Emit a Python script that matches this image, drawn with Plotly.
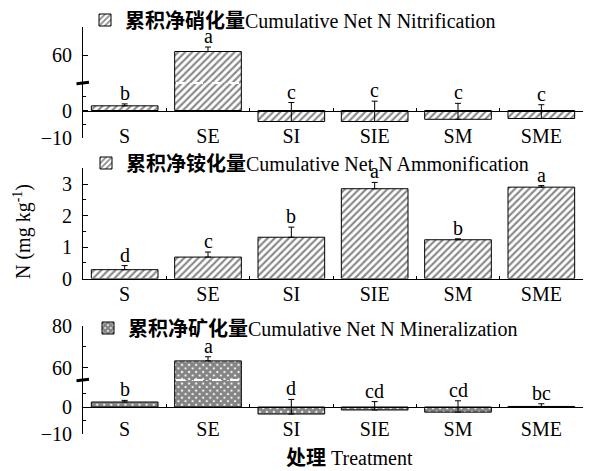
import plotly.graph_objects as go

# Treatments and measured cumulative net N (mg kg-1)
treatments = ["S", "SE", "SI", "SIE", "SM", "SME"]

nitrification = [1.7, 62.5, -4.0, -4.0, -3.2, -2.9]
nitrification_err = [0.7, 3.2, 6.9, 7.4, 5.8, 5.0]
nitrification_sig = ["b", "a", "c", "c", "c", "c"]

ammonification = [0.28, 0.68, 1.31, 2.85, 1.23, 2.9]
ammonification_err = [0.13, 0.16, 0.32, 0.2, 0.03, 0.05]
ammonification_sig = ["d", "c", "b", "a", "b", "a"]

mineralization = [1.85, 63.2, -2.6, -1.1, -1.9, 0.2]
mineralization_err = [0.6, 2.0, 5.4, 3.1, 4.2, 1.0]
mineralization_sig = ["b", "a", "d", "cd", "cd", "bc"]

W, H = 591, 471
FONT = "Liberation Serif, 'Noto Sans CJK SC', serif"


def fy(px):
    return 1 - px / H


xdom = [83 / W, 583 / W]
top_lower, top_upper = [fy(138), fy(83)], [fy(83), fy(27)]
mid_dom = [fy(278.5), fy(168.25)]
bot_lower, bot_upper = [fy(434), fy(380)], [fy(380), fy(326)]

lower_range = [-10, 10]
top_upper_range = [40, 80]
bot_upper_range = [54, 80]
mid_range = [0, 3.5]

hatch = dict(shape="/", fgcolor="#111111", bgcolor="white", size=5, solidity=0.42)
cross = dict(shape="x", fgcolor="#0a0a0a", bgcolor="white", size=5, solidity=0.85)


def bar(vals, errs, pattern, name, xa, ya, legend, show):
    return go.Bar(
        x=treatments, y=vals, name=name, xaxis=xa, yaxis=ya,
        legend=legend, showlegend=show, width=0.8,
        marker=dict(color="white", line=dict(color="black", width=1), pattern=pattern),
        error_y=dict(type="data", array=errs, arrayminus=[0] * len(errs),
                     symmetric=False, color="black", thickness=1, width=3),
    )


name_n = "<b>累积净硝化量</b>Cumulative Net N Nitrification"
name_a = "<b>累积净铵化量</b>Cumulative Net N Ammonification"
name_m = "<b>累积净矿化量</b>Cumulative Net N Mineralization"

fig = go.Figure([
    bar(nitrification, nitrification_err, hatch, name_n, "x", "y", "legend", True),
    bar(nitrification, nitrification_err, hatch, name_n, "x", "y2", "legend", False),
    bar(ammonification, ammonification_err, hatch, name_a, "x2", "y3", "legend2", True),
    bar(mineralization, mineralization_err, cross, name_m, "x3", "y4", "legend3", True),
    bar(mineralization, mineralization_err, cross, name_m, "x3", "y5", "legend3", False),
])

tickfont = dict(family=FONT, size=20, color="black")


def zero_pos(dom, rng):
    return dom[0] + (0 - rng[0]) / (rng[1] - rng[0]) * (dom[1] - dom[0])


xcommon = dict(
    type="category", categoryorder="array", categoryarray=treatments,
    domain=xdom, range=[-0.5, 5.5], showline=True, linecolor="black", linewidth=1,
    ticks="inside", ticklen=3, tickcolor="black", tickson="boundaries",
    tickfont=tickfont, showgrid=False, zeroline=False, fixedrange=True,
)

ycommon = dict(
    showline=True, linecolor="black", linewidth=1, ticks="inside", ticklen=5,
    tickcolor="black", tickfont=tickfont, showgrid=False, zeroline=False,
    tickmode="array", ticklabelstandoff=6, fixedrange=True,
)
minor_style = dict(ticks="inside", ticklen=3, tickcolor="black", tickmode="array")

fig.update_layout(
    width=W, height=H, margin=dict(l=0, r=0, t=0, b=0, autoexpand=False),
    paper_bgcolor="white", plot_bgcolor="white", bargap=0.2,
    font=dict(family=FONT, size=20, color="black"),
    xaxis=dict(xcommon, anchor="free", position=zero_pos(top_lower, lower_range),
               ticklabelstandoff=7),
    xaxis2=dict(xcommon, anchor="y3", ticklabelstandoff=-3),
    xaxis3=dict(xcommon, anchor="free", position=zero_pos(bot_lower, lower_range),
                ticklabelstandoff=4),
    yaxis=dict(ycommon, domain=top_lower, range=lower_range, anchor="x",
               tickvals=[-10, 0], minor=dict(minor_style, tickvals=[-5, 5])),
    yaxis2=dict(ycommon, domain=top_upper, range=top_upper_range, anchor="x",
                tickvals=[60]),
    yaxis3=dict(ycommon, domain=mid_dom, range=mid_range, anchor="x2",
                tickvals=[0, 1, 2, 3],
                minor=dict(minor_style, tickvals=[0.5, 1.5, 2.5])),
    yaxis4=dict(ycommon, domain=bot_lower, range=lower_range, anchor="x3",
                tickvals=[-10, 0], minor=dict(minor_style, tickvals=[-5, 5])),
    yaxis5=dict(ycommon, domain=bot_upper, range=bot_upper_range, anchor="x3",
                tickvals=[60, 80], minor=dict(minor_style, tickvals=[70])),
)

legend_style = dict(
    xanchor="left", yanchor="middle", bgcolor="rgba(0,0,0,0)", borderwidth=0,
    font=dict(family=FONT, size=20, color="black"), itemwidth=30,
)
fig.update_layout(
    legend=dict(legend_style, x=85 / W, y=fy(20)),
    legend2=dict(legend_style, x=86 / W, y=fy(163)),
    legend3=dict(legend_style, x=88 / W, y=fy(328)),
)

# Significance letters above each bar (or above the error bar tip)
panels = [
    (nitrification, nitrification_err, nitrification_sig, "x", "y", "y2", lower_range[1]),
    (ammonification, ammonification_err, ammonification_sig, "x2", "y3", "y3", mid_range[1]),
    (mineralization, mineralization_err, mineralization_sig, "x3", "y4", "y5", lower_range[1]),
]
for vals, errs, sig, xa, ylo, yhi, split in panels:
    for cat, v, e, s in zip(treatments, vals, errs, sig):
        top = max(v + e, v, 0)
        fig.add_annotation(
            x=cat, y=top, xref=xa, yref=(yhi if top > split else ylo),
            text=s, showarrow=False, yanchor="bottom", yshift=-2,
            font=dict(family=FONT, size=20, color="black"),
        )

# Axis break marks on the two split panels
for xa, yup in [("x", "y2"), ("x3", "y5")]:
    fig.add_shape(type="line", xref=f"{xa} domain", yref=f"{yup} domain",
                  x0=0.006, x1=0.994, y0=0, y1=0,
                  line=dict(color="white", width=2, dash="dash"))
    fig.add_shape(type="line", xref=f"{xa} domain", yref=f"{yup} domain",
                  x0=-0.013, x1=0.012, y0=-0.012, y1=0.012,
                  line=dict(color="black", width=3))

# Shared axis titles
fig.add_annotation(
    x=22 / W, y=fy(232), xref="paper", yref="paper", showarrow=False,
    xanchor="center", yanchor="middle",
    text="N (mg kg<sup>-1</sup>)", textangle=-90,
    font=dict(family=FONT, size=20, color="black"),
)
fig.add_annotation(
    x=349 / W, y=fy(458), xref="paper", yref="paper", showarrow=False,
    xanchor="center", yanchor="middle",
    text="<b>处理</b> Treatment",
    font=dict(family=FONT, size=20, color="black"),
)

fig.write_html("out.html")
